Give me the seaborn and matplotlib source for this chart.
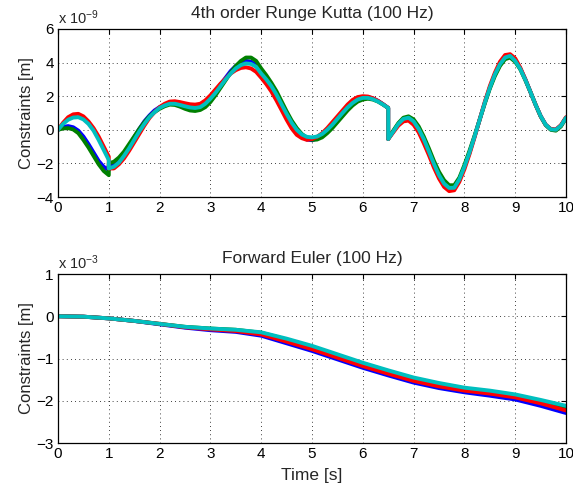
import numpy as np
import pandas as pd
import matplotlib
matplotlib.use("Agg")
import matplotlib.pyplot as plt
import seaborn as sns

# ---------------- data ----------------
# top panel (RK4), values in units of 1e-9 m
t_top = np.concatenate([np.linspace(0, 1, 11), np.linspace(1, 6.5, 56), np.linspace(6.5, 10, 36)])

rk_red = [0, 0.42, 0.75, 0.92, 0.95, 0.8, 0.5, 0.1, -0.4, -1.0, -1.6,
          -2.3, -2.3, -2.05, -1.7, -1.25, -0.75, -0.25, 0.25, 0.7, 1.05,
          1.35, 1.55, 1.68, 1.7, 1.65, 1.58, 1.52, 1.5, 1.55, 1.75,
          2.05, 2.4, 2.75, 3.05, 3.35, 3.55, 3.68, 3.72, 3.65, 3.45,
          3.1, 2.72, 2.28, 1.75, 1.18, 0.6, 0.08, -0.3, -0.5, -0.6,
          -0.55, -0.42, -0.2, 0.1, 0.45, 0.8, 1.15, 1.5, 1.78, 1.95,
          2.0, 1.98, 1.88, 1.72, 1.52, 1.3,
          -0.55, -0.15, 0.25, 0.5, 0.55, 0.3, -0.15, -0.8, -1.5, -2.25,
          -2.9, -3.4, -3.65, -3.6, -3.1, -2.35, -1.45, -0.45, 0.6, 1.65,
          2.6, 3.4, 4.05, 4.45, 4.5, 4.25, 3.7, 3.0, 2.25, 1.5,
          0.82, 0.3, 0.05, 0.02, 0.28, 0.75]

rk_blue = [0, 0.17, 0.22, 0.15, -0.05, -0.4, -0.85, -1.35, -1.85, -2.2, -2.4,
           -2.1, -2.0, -1.75, -1.4, -0.95, -0.45, 0.05, 0.5, 0.85, 1.15,
           1.35, 1.5, 1.58, 1.58, 1.52, 1.45, 1.38, 1.35, 1.4, 1.6,
           1.9, 2.3, 2.7, 3.1, 3.5, 3.8, 4.0, 4.1, 4.05, 3.85,
           3.45, 3.05, 2.6, 2.05, 1.45, 0.85, 0.3, -0.1, -0.4, -0.58,
           -0.62, -0.52, -0.35, -0.05, 0.3, 0.65, 1.0, 1.35, 1.65, 1.85,
           1.95, 1.95, 1.87, 1.72, 1.52, 1.3,
           -0.55, -0.1, 0.35, 0.65, 0.72, 0.5, 0.05, -0.55, -1.3, -2.03,
           -2.7, -3.2, -3.48, -3.45, -2.95, -2.2, -1.35, -0.4, 0.6, 1.6,
           2.5, 3.3, 3.9, 4.3, 4.4, 4.15, 3.65, 3.0, 2.25, 1.5,
           0.82, 0.3, 0.03, 0.0, 0.25, 0.72]

rk_green = [0, 0.08, 0.1, 0.02, -0.2, -0.6, -1.05, -1.55, -2.05, -2.45, -2.7,
            -2.0, -1.9, -1.65, -1.3, -0.85, -0.4, 0.05, 0.45, 0.8, 1.05,
            1.25, 1.4, 1.5, 1.48, 1.38, 1.25, 1.15, 1.12, 1.18, 1.35,
            1.65, 2.05, 2.5, 2.95, 3.4, 3.8, 4.1, 4.3, 4.3, 4.1,
            3.65, 3.25, 2.8, 2.3, 1.7, 1.1, 0.55, 0.1, -0.25, -0.48,
            -0.6, -0.58, -0.45, -0.2, 0.1, 0.45, 0.8, 1.15, 1.45, 1.68,
            1.8, 1.85, 1.8, 1.68, 1.5, 1.3,
            -0.55, -0.05, 0.4, 0.72, 0.8, 0.62, 0.2, -0.4, -1.1, -1.85,
            -2.5, -3.0, -3.3, -3.3, -2.85, -2.1, -1.25, -0.35, 0.6, 1.55,
            2.45, 3.2, 3.8, 4.2, 4.3, 4.05, 3.6, 2.95, 2.25, 1.5,
            0.8, 0.28, 0.0, -0.05, 0.2, 0.7]

rk_cyan = [0, 0.35, 0.6, 0.73, 0.75, 0.62, 0.35, -0.05, -0.6, -1.2, -1.8,
           -2.3, -2.2, -1.95, -1.55, -1.1, -0.6, -0.1, 0.35, 0.75, 1.05,
           1.3, 1.45, 1.55, 1.55, 1.48, 1.4, 1.33, 1.3, 1.35, 1.55,
           1.85, 2.2, 2.6, 3.0, 3.35, 3.65, 3.85, 3.95, 3.92, 3.75,
           3.35, 3.0, 2.6, 2.1, 1.52, 0.95, 0.42, 0.0, -0.28, -0.42,
           -0.45, -0.4, -0.25, 0.0, 0.3, 0.65, 1.0, 1.33, 1.6, 1.8,
           1.9, 1.9, 1.82, 1.68, 1.5, 1.3,
           -0.55, -0.1, 0.35, 0.65, 0.72, 0.5, 0.05, -0.55, -1.28, -2.03,
           -2.7, -3.2, -3.46, -3.45, -2.95, -2.2, -1.35, -0.4, 0.6, 1.6,
           2.5, 3.3, 3.9, 4.3, 4.4, 4.1, 3.62, 2.97, 2.25, 1.5,
           0.82, 0.3, 0.03, 0.0, 0.25, 0.72]

# bottom panel (Forward Euler), values in units of 1e-3 m
t_bot = np.linspace(0, 10, 21)
fe_red = [0, -0.01, -0.05, -0.11, -0.18, -0.26, -0.31, -0.35, -0.43, -0.6, -0.78,
          -0.98, -1.18, -1.36, -1.53, -1.66, -1.76, -1.83, -1.92, -2.06, -2.23]
fe_blue = [0, -0.01, -0.05, -0.11, -0.19, -0.27, -0.33, -0.37, -0.46, -0.64, -0.82,
           -1.02, -1.22, -1.4, -1.57, -1.7, -1.8, -1.88, -1.97, -2.12, -2.29]
fe_green = [0, -0.01, -0.05, -0.11, -0.18, -0.25, -0.29, -0.32, -0.39, -0.55, -0.72,
            -0.92, -1.12, -1.3, -1.47, -1.6, -1.71, -1.78, -1.87, -2.01, -2.17]
fe_cyan = [0, -0.01, -0.05, -0.11, -0.18, -0.25, -0.29, -0.32, -0.38, -0.53, -0.7,
           -0.9, -1.1, -1.28, -1.45, -1.58, -1.69, -1.76, -1.85, -1.98, -2.12]

x_ticks = list(range(0, 11))
top_yticks = [-4, -2, 0, 2, 4, 6]
bot_yticks = [-3, -2, -1, 0, 1]

colors = {"blue": (0, 0, 1), "green": (0, 0.5, 0), "red": (1, 0, 0), "cyan": (0, 0.75, 0.75)}

# ---------------- style ----------------
sns.set_style("white")
plt.rcParams["font.family"] = ["Liberation Sans", "DejaVu Sans"]
plt.rcParams["mathtext.fontset"] = "custom"
plt.rcParams["mathtext.rm"] = "Liberation Sans"
plt.rcParams["mathtext.it"] = "Liberation Sans"
plt.rcParams["axes.unicode_minus"] = True

fig = plt.figure(figsize=(5.73, 4.88), dpi=100)
ax1 = fig.add_axes([0.1012, 0.5963, 0.8866, 0.3443])
ax2 = fig.add_axes([0.1012, 0.0922, 0.8866, 0.3463])

top_series = [("blue", rk_blue), ("green", rk_green), ("red", rk_red), ("cyan", rk_cyan)]
bot_series = [("blue", fe_blue), ("green", fe_green), ("red", fe_red), ("cyan", fe_cyan)]

for name, vals in top_series:
    sns.lineplot(x=t_top, y=np.array(vals), ax=ax1, color=colors[name], lw=2.8,
                 estimator=None, sort=False)
for name, vals in bot_series:
    sns.lineplot(x=t_bot, y=np.array(vals), ax=ax2, color=colors[name], lw=2.8,
                 estimator=None, sort=False)

fs = 11
for ax, yt, title, exp in [(ax1, top_yticks, "4th order Runge Kutta (100 Hz)", "-9"),
                           (ax2, bot_yticks, "Forward Euler (100 Hz)", "-3")]:
    ax.set_xlim(0, 10)
    ax.set_ylim(yt[0], yt[-1])
    ax.set_xticks(x_ticks)
    ax.set_yticks(yt)
    ax.grid(True, color="black", linestyle=(0, (1, 4)), linewidth=0.6)
    ax.tick_params(direction="in", length=3.5, width=0.8, top=True, right=True,
                   labelsize=fs, pad=3, colors="black")
    for sp in ax.spines.values():
        sp.set_color("black")
        sp.set_linewidth(0.9)
    ax.set_ylabel("Constraints [m]", fontsize=12, labelpad=2)
    ax.set_xlabel("")
    ax.set_title(title, fontsize=12.5, pad=8)
    ax.text(0.0, 1.012, r"x 10$^{%s}$" % exp.replace("-", "\u2212"), transform=ax.transAxes,
            fontsize=10.5, ha="left", va="bottom")

ax2.set_xlabel("Time [s]", fontsize=12.5, labelpad=5)

fig.savefig("out.png", dpi=100, facecolor="white")
